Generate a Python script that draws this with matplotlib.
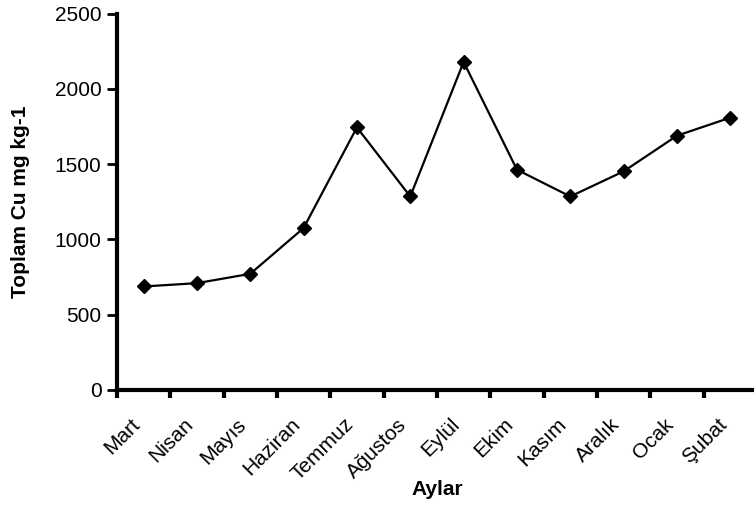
import matplotlib
matplotlib.use("Agg")
import matplotlib.pyplot as plt

# monthly totals
months = ["Mart", "Nisan", "Mayıs", "Haziran", "Temmuz", "Ağustos",
          "Eylül", "Ekim", "Kasım", "Aralık", "Ocak", "Şubat"]
cu_total = [687, 709, 771, 1075, 1744, 1285, 2179, 1463, 1285, 1452, 1689, 1809]
y_ticks = [0, 500, 1000, 1500, 2000, 2500]

plt.rcParams["font.family"] = ["Liberation Sans", "DejaVu Sans"]

fig = plt.figure(figsize=(7.54, 5.05), dpi=100)
ax = fig.add_axes([0.155, 0.228, 0.849, 0.745])

x = list(range(len(months)))
ax.plot(x, cu_total, "-", color="black", linewidth=1.6,
        marker="D", markersize=7, markerfacecolor="black",
        markeredgecolor="black", clip_on=False)

ax.set_xlim(-0.5, len(months) - 0.5)
ax.set_ylim(0, 2500)
ax.set_yticks(y_ticks)
ax.set_yticklabels([str(v) for v in y_ticks], fontsize=15)

# ticks between categories, labels at category centres
ax.set_xticks([i - 0.5 for i in x])
ax.set_xticklabels([])
ax.set_xticks(x, minor=True)
ax.set_xticklabels(months, minor=True, rotation=45, ha="right",
                   va="top", fontsize=15)
ax.tick_params(axis="x", which="minor", length=0, pad=18)
ax.tick_params(axis="x", which="major", direction="out", length=6, width=3)
ax.tick_params(axis="y", direction="out", length=7, width=2, pad=4)

for side in ["top", "right"]:
    ax.spines[side].set_visible(False)
for side in ["left", "bottom"]:
    ax.spines[side].set_linewidth(3)

ax.set_xlabel("Aylar", fontsize=15, fontweight="bold", labelpad=-3)
ax.set_ylabel("Toplam Cu mg kg-1", fontsize=15, fontweight="bold", labelpad=18)

fig.savefig("out.png", dpi=100)
